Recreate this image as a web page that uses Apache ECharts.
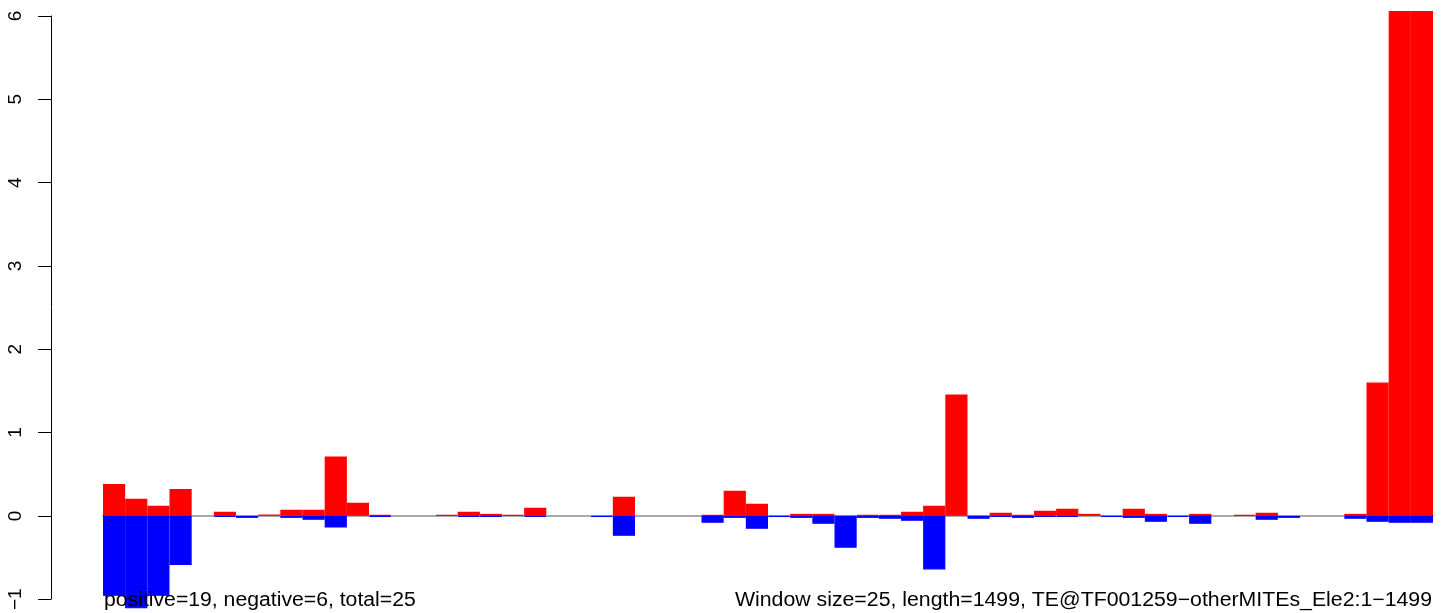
<!DOCTYPE html>
<html><head><meta charset="utf-8">
<script src="https://cdn.jsdelivr.net/npm/echarts@6/dist/echarts.min.js"></script>
<style>html,body{margin:0;padding:0;background:#fff}#c{width:1441px;height:613px}</style>
</head><body><div id="c"></div>
<script>
// window index (60 windows of 25 bp over 1499 bp)
const categories = ['1','2','3','4','5','6','7','8','9','10','11','12','13','14','15','16','17','18','19','20',
  '21','22','23','24','25','26','27','28','29','30','31','32','33','34','35','36','37','38','39','40',
  '41','42','43','44','45','46','47','48','49','50','51','52','53','54','55','56','57','58','59','60'];
const positiveValues = [0.383,0.204,0.12,0.323,0,0.048,0,0.016,0.072,0.072,
  0.714,0.156,0.012,0,0,0.012,0.048,0.024,0.012,0.096,
  0,0,0,0.228,0,0,0,0.012,0.30,0.144,
  0,0.024,0.024,0,0.012,0.012,0.048,0.12,1.457,0,
  0.036,0.012,0.06,0.084,0.024,0,0.084,0.024,0,0.024,
  0,0.012,0.036,0,0,0,0.024,1.60,6.06,6.06];
const negativeValues = [-0.96,-1.11,-0.96,-0.59,0,-0.012,-0.024,0,-0.024,-0.048,
  -0.14,0,-0.012,0,0,0,-0.012,-0.012,0,-0.012,
  0,0,-0.012,-0.24,0,0,0,-0.084,-0.024,-0.156,
  -0.012,-0.024,-0.096,-0.383,-0.024,-0.036,-0.06,-0.643,0,-0.036,
  -0.012,-0.024,-0.012,-0.012,0,-0.012,-0.024,-0.072,-0.012,-0.096,
  0,0,-0.048,-0.024,0,0,-0.036,-0.072,-0.084,-0.084];
const yTicks = [-1,0,1,2,3,4,5,6];
const leftNote = 'positive=19, negative=6, total=25';
const rightNote = 'Window size=25, length=1499, TE@TF001259\u2212otherMITEs_Ele2:1\u22121499';

const FONT = '"Liberation Sans", Arial, Helvetica, sans-serif';
const noZero = arr => arr.map(v => (v === 0 ? '-' : v));
const chart = echarts.init(document.getElementById('c'), null, {renderer:'canvas'});
chart.setOption({
  animation: false,
  backgroundColor: '#ffffff',
  grid: {left: 103, right: 8, top: 16, bottom: 13, containLabel: false},
  xAxis: {
    type: 'category', data: categories, boundaryGap: true,
    axisLine: {show: true, onZero: true, lineStyle: {color: '#a9a9a9', width: 2}},
    axisTick: {show: false}, axisLabel: {show: false}, splitLine: {show: false}
  },
  yAxis: {
    type: 'value', min: yTicks[0], max: yTicks[yTicks.length-1], interval: 1, offset: 52,
    axisLine: {show: true, lineStyle: {color: '#000', width: 1}},
    axisTick: {show: true, length: 13, lineStyle: {color: '#000', width: 1}},
    axisLabel: {rotate: 90, margin: 26, fontSize: 19, color: '#000', fontFamily: FONT,
      formatter: v => (v < 0 ? '\u2212' + (-v) : String(v))},
    splitLine: {show: false}
  },
  series: [
    {type: 'bar', name: 'positive', data: noZero(positiveValues), clip: false,
     barCategoryGap: '0%', barGap: '-100%',
     itemStyle: {color: '#ff0000', borderColor: '#ff0000', borderWidth: 1.2}, z: 3},
    {type: 'bar', name: 'negative', data: noZero(negativeValues), clip: false,
     barCategoryGap: '0%', barGap: '-100%',
     itemStyle: {color: '#0000ff', borderColor: '#0000ff', borderWidth: 1.2}, z: 3}
  ],
  graphic: [
    {type: 'text', x: 104, y: 600, z: 100, scaleX: 1.06,
     style: {text: leftNote, font: '20px ' + FONT, fill: '#000', textAlign: 'left', textVerticalAlign: 'middle', align: 'left', verticalAlign: 'middle'}},
    {type: 'text', x: 1432, y: 600, z: 100, scaleX: 1.064,
     style: {text: rightNote, font: '20px ' + FONT, fill: '#000', textAlign: 'right', textVerticalAlign: 'middle', align: 'right', verticalAlign: 'middle'}}
  ]
});
</script></body></html>
